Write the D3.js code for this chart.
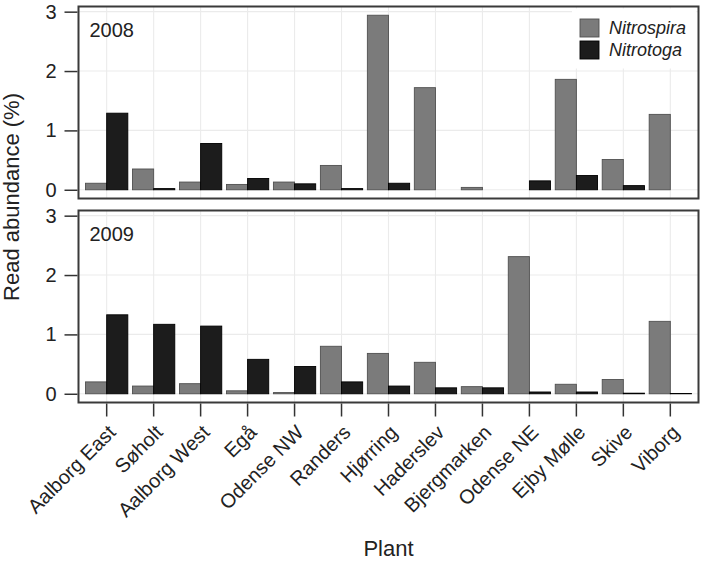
<!DOCTYPE html>
<html><head><meta charset="utf-8">
<script src="https://cdn.jsdelivr.net/npm/d3@7"></script>
<style>body{margin:0;background:#fff}svg{display:block;font-family:"Liberation Sans",Arial,sans-serif}</style>
</head><body>
<svg id="c" width="702" height="564"></svg>
<script>
const plants = ["Aalborg East","Søholt","Aalborg West","Egå","Odense NW","Randers","Hjørring","Haderslev","Bjergmarken","Odense NE","Ejby Mølle","Skive","Viborg"];
const series = ["Nitrospira","Nitrotoga"];
const years = ["2008","2009"];
const nitrospira2008 = [0.11,0.35,0.13,0.09,0.13,0.41,2.94,1.72,0.04,0.00,1.86,0.51,1.27];
const nitrotoga2008  = [1.29,0.02,0.78,0.19,0.10,0.02,0.11,0.00,0.00,0.15,0.24,0.07,0.00];
const nitrospira2009 = [0.20,0.13,0.17,0.05,0.02,0.80,0.68,0.53,0.12,2.31,0.16,0.24,1.22];
const nitrotoga2009  = [1.33,1.17,1.14,0.58,0.46,0.20,0.13,0.10,0.10,0.03,0.03,0.01,0.005];
const yTicks = [0,1,2,3];

const panelsData = [
  {year:"2008", values:{Nitrospira:nitrospira2008, Nitrotoga:nitrotoga2008}},
  {year:"2009", values:{Nitrospira:nitrospira2009, Nitrotoga:nitrotoga2009}}
];

const svg = d3.select("#c");
const left = 78.5, right = 698.5;
const panelTops = [6.5, 210.5], panelH = 192;
const colors = {Nitrospira:"#7b7b7b", Nitrotoga:"#1c1c1c"};
const strokes = {Nitrospira:"#505050", Nitrotoga:"#000"};

const x = d3.scaleBand().domain(plants).range([left,right]).paddingInner(0.1).paddingOuter(0.15);
const x1 = d3.scaleBand().domain(series).range([0, x.bandwidth()]);
const maxV = d3.max([...nitrospira2008,...nitrotoga2008,...nitrospira2009,...nitrotoga2009]);
const pad = 0.05*maxV;

panelsData.forEach((p,pi)=>{
  const top = panelTops[pi], bot = top+panelH;
  const y = d3.scaleLinear().domain([-pad, maxV+pad]).range([bot, top]);
  const g = svg.append("g");
  g.selectAll(".hg").data(yTicks).join("line")
    .attr("x1",left).attr("x2",right).attr("y1",d=>y(d)).attr("y2",d=>y(d))
    .attr("stroke","#ebebeb").attr("stroke-width",1.1);
  g.selectAll(".vg").data(plants).join("line")
    .attr("x1",d=>x(d)+x.bandwidth()/2).attr("x2",d=>x(d)+x.bandwidth()/2)
    .attr("y1",top).attr("y2",bot).attr("stroke","#ebebeb").attr("stroke-width",1.1);
  series.forEach(s=>{
    const vals = p.values[s];
    g.selectAll(".b"+s).data(plants.map((pl,i)=>({pl,v:vals[i]})).filter(d=>d.v>0)).join("rect")
      .attr("x",d=>x(d.pl)+x1(s)).attr("width",x1.bandwidth())
      .attr("y",d=>y(d.v)).attr("height",d=>y(0)-y(d.v))
      .attr("fill",colors[s]).attr("stroke",strokes[s]).attr("stroke-width",0.9);
  });
  g.append("text").attr("x",left+11).attr("y",top+30).attr("font-size",20).attr("fill","#222").text(p.year);
  if(pi===0){
    g.append("rect").attr("x",572).attr("y",top+2).attr("width",right-572-2).attr("height",60).attr("fill","#fff");
    series.forEach((s,i)=>{
      g.append("rect").attr("x",580).attr("y",19+i*22).attr("width",19).attr("height",18)
        .attr("fill",colors[s]).attr("stroke",strokes[s]).attr("stroke-width",0.9);
      g.append("text").attr("x",609).attr("y",34+i*22).attr("font-size",18).attr("font-style","italic")
        .attr("fill","#222").text(s);
    });
  }
  g.append("rect").attr("x",left).attr("y",top).attr("width",right-left).attr("height",panelH)
    .attr("fill","none").attr("stroke","#3a3a3a").attr("stroke-width",2);
  const ya = svg.append("g").attr("transform",`translate(${left-1},0)`)
    .call(d3.axisLeft(y).tickValues(yTicks).tickFormat(d3.format("d")).tickSize(13).tickPadding(8));
  ya.select(".domain").remove();
  ya.selectAll(".tick line").attr("stroke","#333").attr("stroke-width",1.5);
  ya.selectAll(".tick text").attr("font-size",20).attr("fill","#222").attr("font-family","Liberation Sans, Arial, sans-serif");
});

const xa = svg.append("g").attr("transform",`translate(0,${panelTops[1]+panelH+1})`)
  .call(d3.axisBottom(x).tickSize(13).tickPadding(0));
xa.select(".domain").remove();
xa.selectAll(".tick line").attr("stroke","#333").attr("stroke-width",1.5);
xa.selectAll(".tick text").attr("font-size",20).attr("fill","#222").attr("font-family","Liberation Sans, Arial, sans-serif")
  .attr("text-anchor","end").attr("dy","0.72em").attr("y",0)
  .attr("transform","translate(0,20) rotate(-45)");

svg.append("text").attr("transform","translate(19,197) rotate(-90)").attr("text-anchor","middle")
  .attr("font-size",22).attr("fill","#222").text("Read abundance (%)");
svg.append("text").attr("x",(left+right)/2).attr("y",556).attr("text-anchor","middle")
  .attr("font-size",22).attr("fill","#222").text("Plant");
</script>
</body></html>
